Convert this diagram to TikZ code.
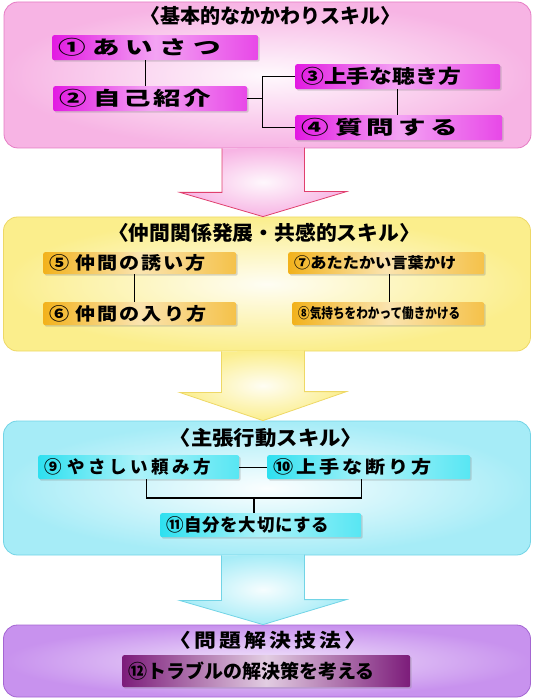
\documentclass[tikz,border=0pt]{standalone}
\usepackage{fontspec}
\newfontfamily\jpfont{Noto Sans CJK JP}
\usetikzlibrary{
  positioning,
  calc,
  shadows
}
\definecolor{pinkPanel}{HTML}{F7B4E4}
\definecolor{pinkEdge}{HTML}{E57CC4}
\definecolor{arrowRed}{HTML}{E0406E}
\definecolor{boxMag}{HTML}{E21AE2}
\definecolor{yellowPanel}{HTML}{FBEE8C}
\definecolor{yellowEdge}{HTML}{EED866}
\definecolor{boxGold}{HTML}{F2B21C}
\definecolor{cyanPanel}{HTML}{A6ECF7}
\definecolor{cyanEdge}{HTML}{72D4E6}
\definecolor{boxCyan}{HTML}{2EE0F0}
\definecolor{purplePanel}{HTML}{C892EE}
\definecolor{purpleEdge}{HTML}{A466D2}
\definecolor{boxPurple}{HTML}{7C1C7A}
% size / horizontal stretch / letter spacing
\newcommand{\jpsz}[3]{\jpfont\bfseries\fontsize{#1}{#1}\selectfont
  \addfontfeature{FakeStretch=#2, LetterSpace=#3}}
\tikzset{
  panel/.style   = {rectangle, rounded corners=14pt, line width=0.8pt,
                    minimum width=527pt, inner sep=0pt},
  title/.style   = {inner sep=0pt, text=black},
  skill/.style   = {rectangle, rounded corners=2pt, anchor=north west,
                    inner xsep=6pt, inner ysep=0pt, align=left, text=black,
                    drop shadow={shadow xshift=1.5pt, shadow yshift=-1.5pt,
                                 opacity=0.3}},
  magbox/.style  = {skill, left color=boxMag, right color=boxMag!80!white,
                    middle color=boxMag!40!white},
  goldbox/.style = {skill, left color=boxGold, right color=boxGold!80!white,
                    middle color=boxGold!35!white},
  cyanbox/.style = {skill, left color=boxCyan, right color=boxCyan!80!white,
                    middle color=boxCyan!40!white},
  purpbox/.style = {skill, left color=boxPurple, right color=boxPurple,
                    middle color=boxPurple!22!white},
  link/.style    = {line width=1.2pt, draw=black},
  blockarrow/.style = {line width=0.8pt}
}
\begin{document}
\begin{tikzpicture}[x=1pt, y=-1pt]
\useasboundingbox (0,0) rectangle (534,700);
% Four skill panels
\node[panel, draw=pinkEdge, outer color=pinkPanel,
      inner color=pinkPanel!8!white, minimum height=146pt] (pnlA) at (267.5,75) {};
\node[panel, draw=yellowEdge, outer color=yellowPanel,
      inner color=yellowPanel!10!white, minimum height=134pt] (pnlB) at (267,284) {};
\node[panel, draw=cyanEdge, outer color=cyanPanel,
      inner color=cyanPanel!5!white, minimum height=134pt] (pnlC) at (267,488) {};
\node[panel, draw=purpleEdge, outer color=purplePanel,
      inner color=purplePanel!25!white, minimum height=72pt] (pnlD) at (267,661) {};
% Block arrows between panels
\foreach \pa/\pb/\sh/\hd/\ac/\fc in {
    pnlA/pnlB/44/25/arrowRed/pinkPanel,
    pnlB/pnlC/41/29/yellowEdge/yellowPanel,
    pnlC/pnlD/45/25/cyanEdge/cyanPanel}{
  \draw[blockarrow, draw=\ac, outer color=\fc, inner color=\fc!10!white]
       ($(\pa.south)+(-45.5,0)$) -- ++(0,\sh) -- ++(-42,0)
       -- ($(\pb.north)+(-4,0)$) -- ++(83.5,-\hd) -- ++(-42,0) -- ++(0,-\sh);
}
% Panel titles
\node[title, font=\jpsz{20}{1.0}{0}] (ttlA) at (270,16) {〈基本的なかかわりスキル〉};
\node[title, font=\jpsz{20}{1.04}{0}] (ttlB) at (264,233) {〈仲間関係発展・共感的スキル〉};
\node[title, font=\jpsz{20}{1.07}{0}] (ttlC) at (266,438) {〈主張行動スキル〉};
\node[title, font=\jpsz{19}{1.15}{17}] (ttlD) at (268,640) {〈問題解決技法〉};
% Basic skills
\node[magbox, font=\jpsz{19}{1.45}{33}, text width=194pt, minimum height=25pt] (sk1) at (52,35) {① あいさつ};
\node[magbox, font=\jpsz{19}{1.45}{14}, text width=182pt, minimum height=25pt] (sk2) at (53,86) {② 自己紹介};
\node[magbox, font=\jpsz{19}{1.2}{0}, text width=193pt, minimum height=25pt] (sk3) at (295,64) {③上手な聴き方};
\node[magbox, font=\jpsz{19}{1.45}{23}, text width=195pt, minimum height=25pt] (sk4) at (295,115) {④ 質問する};
\draw[link] ([xshift=-10pt]sk1.south) -- ([xshift=-10pt]sk1.south |- sk2.north);
\draw[link] (sk2.east) -- ++(15,0);
\draw[link] (sk3.west) -| ($(sk2.east)+(15,0)$) |- (sk4.west);
\draw[link] (sk3.south) -- (sk3.south |- sk4.north);
% Peer relation skills
\node[goldbox, font=\jpsz{17.5}{1.15}{11}, text width=181pt, minimum height=22pt] (sk5) at (43,252) {⑤ 仲間の誘い方};
\node[goldbox, font=\jpsz{17.5}{1.15}{12}, text width=181pt, minimum height=23pt] (sk6) at (43,302) {⑥ 仲間の入り方};
\node[goldbox, font=\jpsz{15}{1.08}{0}, text width=184pt, minimum height=22pt] (sk7) at (288,252) {⑦あたたかい言葉かけ};
\node[goldbox, font=\jpsz{14}{0.83}{0}, text width=180pt, minimum height=23pt] (sk8) at (292,302) {⑧気持ちをわかって働きかける};
\draw[link] ([xshift=-5pt]sk5.south) -- ([xshift=-5pt]sk5.south |- sk6.north);
\draw[link] ([xshift=3pt]sk7.south) -- ([xshift=3pt]sk7.south |- sk8.north);
% Assertive skills
\node[cyanbox, font=\jpsz{17.5}{1.0}{20}, text width=189pt, minimum height=24pt] (sk9) at (38,455) {⑨ やさしい頼み方};
\node[cyanbox, font=\jpsz{17.5}{1.15}{17}, text width=191pt, minimum height=24pt] (sk10) at (267,455) {⑩上手な断り方};
\node[cyanbox, font=\jpsz{17.5}{1.0}{4}, text width=189pt, minimum height=24pt] (sk11) at (160,513) {⑪自分を大切にする};
\coordinate (jn) at (254,498);
\draw[link] (sk9.east) -- (sk10.west);
\draw[link] ([xshift=8pt]sk9.south) |- ([xshift=-7pt]sk10.south |- jn) -- ([xshift=-7pt]sk10.south);
\draw[link] (jn) -- (jn |- sk11.north);
% Problem solving
\node[purpbox, font=\jpsz{19}{1.0}{0}, text width=276pt, minimum height=32pt] (sk12) at (122,655) {⑫トラブルの解決策を考える};
\end{tikzpicture}
\end{document}
